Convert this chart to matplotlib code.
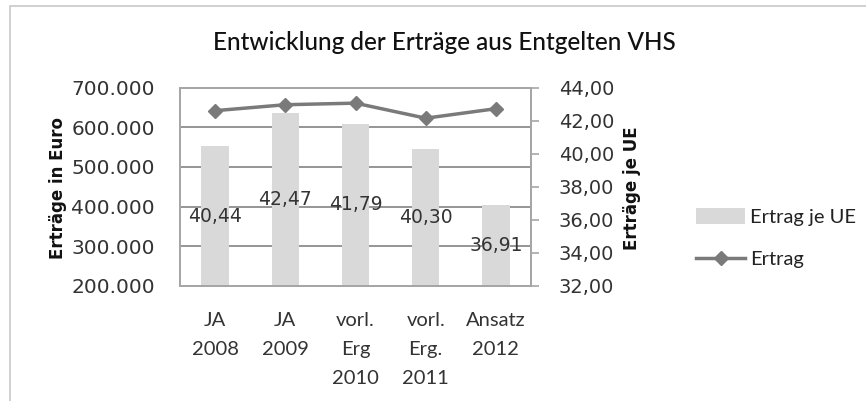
import numpy as np
import matplotlib.pyplot as plt
from matplotlib.patches import Rectangle, Patch
from matplotlib.lines import Line2D

# data
categories = ["JA\n2008", "JA\n2009", "vorl.\nErg\n2010", "vorl.\nErg.\n2011", "Ansatz\n2012"]
ertrag_je_ue = [40.44, 42.47, 41.79, 40.30, 36.91]
ertrag = [642000, 657000, 661000, 623000, 647000]
ue_labels = ["40,44", "42,47", "41,79", "40,30", "36,91"]

left_ticks = [200000, 300000, 400000, 500000, 600000, 700000]
right_ticks = [32, 34, 36, 38, 40, 42, 44]

bar_color = "#d9d9d9"
line_color = "#7a7a7a"
frame_color = "#a6a6a6"
grid_color = "#8c8c8c"
text_font = "Lato"
num_font = "DejaVu Sans"

fig = plt.figure(figsize=(8.66, 4.01), dpi=100)

# outer chart border
fig.patches.append(Rectangle((10 / 866, -0.05), 1.0, 1.05 - 6 / 401, transform=fig.transFigure,
                             fill=False, edgecolor="#c8c8c8", linewidth=1.2))

ax = fig.add_axes([180 / 866, 115.3 / 401, 351 / 866, 198 / 401])
ax2 = ax.twinx()

x = np.arange(len(categories))

# bars on the right axis (drawn below the line)
ax2.bar(x, ertrag_je_ue, width=0.39, color=bar_color, bottom=0, zorder=1)
ax2.set_ylim(32, 44)
ax2.set_yticks(right_ticks)
ax2.set_yticklabels(["%d,00" % v for v in right_ticks], fontsize=14, family=num_font, color="#333333")
ax2.tick_params(axis="y", direction="out", length=6, width=1.2, color=frame_color, pad=14)
for i, v in enumerate(ertrag_je_ue):
    ax2.text(x[i], (32 + v) / 2, ue_labels[i], ha="center", va="center",
             fontsize=13.5, family=num_font, color="#333333", zorder=3)

# line on the left axis
ax.set_zorder(ax2.get_zorder() + 1)
ax.patch.set_visible(False)
ax.plot(x, ertrag, color=line_color, linewidth=2.5, marker="D", markersize=7,
        markerfacecolor=line_color, markeredgecolor=line_color, zorder=4)
ax.set_ylim(200000, 700000)
ax.set_yticks(left_ticks)
ax.set_yticklabels(["{:,}".format(v).replace(",", ".") for v in left_ticks],
                   fontsize=14.5, family=num_font, color="#333333")
ax.tick_params(axis="y", length=0, pad=18)
ax.set_xlim(-0.5, len(categories) - 0.5)
ax.set_xticks(x)
ax.set_xticklabels(categories, fontsize=14.5, family=text_font, color="#333333", linespacing=1.85)
ax.tick_params(axis="x", length=0, pad=19)

# gridlines on the left axis, drawn behind bars
for v in left_ticks[1:-1]:
    ax2.axhline(32 + (v - 200000) / 500000 * 12, color=grid_color, linewidth=1.3, zorder=0)

for a in (ax, ax2):
    for s in a.spines.values():
        s.set_color(frame_color)
        s.set_linewidth(1.3)

fig.text(58 / 866, 1 - 188 / 401, "Erträge in Euro", rotation=90, ha="center", va="center",
         fontsize=12, fontweight="bold", family=num_font, color="#111111")
fig.text(632 / 866, 1 - 188 / 401, "Erträge je UE", rotation=90, ha="center", va="center",
         fontsize=12, fontweight="bold", family=num_font, color="#111111")

fig.text(444 / 866, 1 - 42 / 401, "Entwicklung der Erträge aus Entgelten VHS", ha="center", va="center",
         fontsize=17.5, family=text_font, fontweight="medium", color="#111111")

handles = [Patch(facecolor=bar_color, edgecolor="none"),
           Line2D([], [], color=line_color, linewidth=2.5, marker="D", markersize=7)]
fig.legend(handles, ["Ertrag je UE", "Ertrag"], loc="center left",
           bbox_to_anchor=(678 / 866, 1 - 238 / 401), frameon=False,
           prop={"family": text_font, "size": 14.5}, handlelength=2.45, handleheight=0.85,
           handletextpad=0.25, labelspacing=1.2, labelcolor="#222222")

fig.savefig("out.png", dpi=100)
